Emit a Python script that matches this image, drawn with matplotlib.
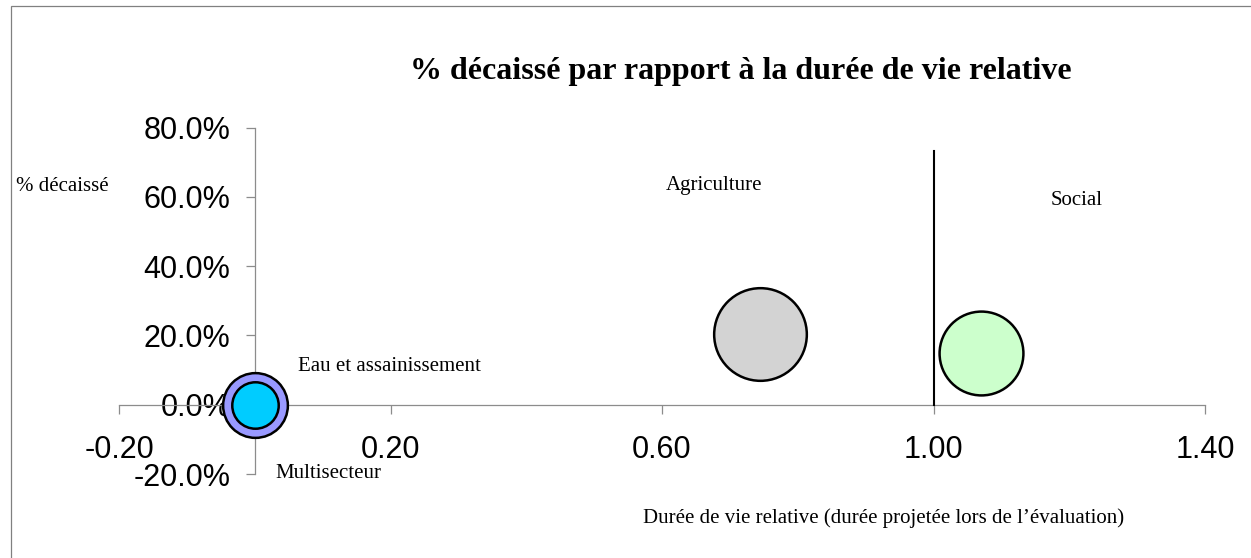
import matplotlib
matplotlib.use("Agg")
import matplotlib.pyplot as plt
from matplotlib.patches import Rectangle
from matplotlib.ticker import PercentFormatter, FormatStrFormatter

plt.rcParams['axes.unicode_minus'] = False

# --- Données ---
secteurs = ["Multisecteur", "Eau et assainissement", "Agriculture", "Social"]
duree_relative = [0.0, 0.0, 0.745, 1.07]      # axe X
pct_decaisse = [0.0, 0.0, 0.205, 0.15]        # axe Y
taille = [1050, 540, 2150, 1760]              # taille des bulles (unités relatives)
couleurs = ["#9999FF", "#00CCFF", "#D3D3D3", "#CCFFCC"]

x_ticks = [-0.2, 0.2, 0.6, 1.0, 1.4]
y_ticks = [-0.2, 0.0, 0.2, 0.4, 0.6, 0.8]

# position des étiquettes (coord. données)
etiq_x = [0.108, 0.198, 0.677, 1.211]
etiq_y = [-0.199, 0.111, 0.634, 0.591]

# ligne de référence durée relative = 1
ref_x = [1.0, 1.0]
ref_y = [0.0, 0.732]

W, H = 1251, 558
fig = plt.figure(figsize=(W / 100, H / 100), dpi=100)
ax = fig.add_axes([119 / W, 1 - 474 / H, (1205 - 119) / W, (474 - 127.7) / H])

gris = "#8c8c8c"
ax.set_xlim(-0.2, 1.4)
ax.set_ylim(-0.2, 0.8)
ax.spines['top'].set_visible(False)
ax.spines['right'].set_visible(False)
ax.spines['left'].set_position(('data', 0))
ax.spines['bottom'].set_position(('data', 0))
for s in ['left', 'bottom']:
    ax.spines[s].set_color(gris)
    ax.spines[s].set_linewidth(0.9)

ax.set_xticks(x_ticks)
ax.set_yticks(y_ticks)
ax.xaxis.set_major_formatter(FormatStrFormatter('%.2f'))
ax.yaxis.set_major_formatter(PercentFormatter(1.0, decimals=1))
ax.tick_params(axis='both', direction='out', length=6.5, width=0.9, color=gris,
               labelsize=22, labelcolor='black')
ax.tick_params(axis='x', pad=15)
ax.tick_params(axis='y', pad=11)
for lab in ax.get_xticklabels() + ax.get_yticklabels():
    lab.set_fontfamily('Liberation Sans')

# ligne verticale
ax.plot(ref_x, ref_y, color='black', lw=1.5, zorder=2.6)

# bulles (les plus grandes d'abord)
ordre = sorted(range(len(secteurs)), key=lambda i: -taille[i])
for i in ordre:
    ax.scatter(duree_relative[i], pct_decaisse[i], s=taille[i] * 2.07,
               color=couleurs[i], edgecolor='black', linewidth=1.8, zorder=3,
               clip_on=False)

for i, nom in enumerate(secteurs):
    ax.text(etiq_x[i], etiq_y[i], nom, ha='center', va='center',
            family='Liberation Serif', fontsize=15, zorder=4)

fig.text(740.5 / W, 1 - 71.7 / H, "% décaissé par rapport à la durée de vie relative",
         ha='center', va='center', family='Liberation Serif', fontweight='bold', fontsize=23)
fig.text(16 / W, 1 - 186.8 / H, "% décaissé", ha='left', va='center',
         family='Liberation Serif', fontsize=15)
fig.text(884 / W, 1 - 518 / H, "Durée de vie relative (durée projetée lors de l\u2019évaluation)",
         ha='center', va='center', family='Liberation Serif', fontsize=15)

# cadre du graphique (coupé à droite et en bas)
fig.patches.append(Rectangle((10.5 / W, -0.05), 1.0, 1.05 - 6.5 / H, transform=fig.transFigure,
                             fill=False, edgecolor='#808080', linewidth=0.9))

fig.savefig("out.png", dpi=100)
